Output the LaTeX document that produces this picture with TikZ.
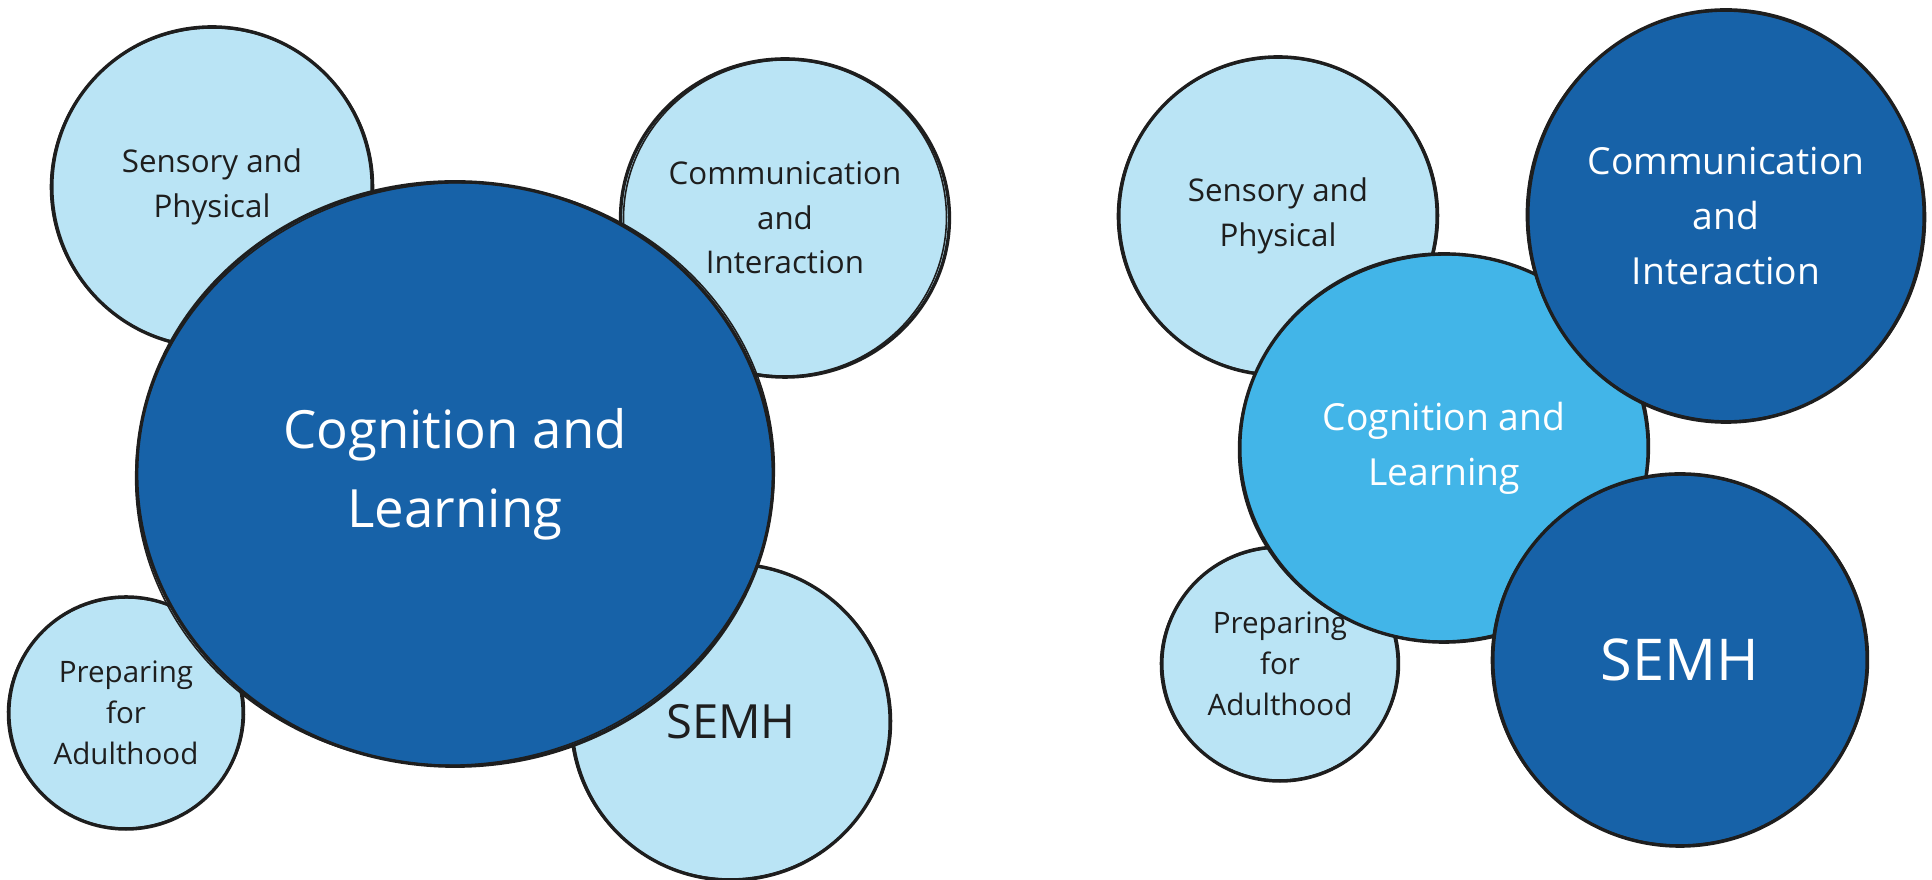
\documentclass[tikz,border=0pt]{standalone}
\usepackage{fontspec}
\setmainfont{Open Sans}
\usetikzlibrary{shapes.geometric}
\definecolor{dk}{HTML}{1762A8}
\definecolor{lt}{HTML}{BAE4F5}
\definecolor{md}{HTML}{42B5E8}
\definecolor{ink}{HTML}{1E1E1E}
\tikzset{
  bub/.style={ellipse, draw=ink, line width=0.95pt, inner sep=0pt, align=center},
  light/.style={bub, fill=lt, text=ink},
  dark/.style={bub, fill=dk, text=white},
  mid/.style={bub, fill=md, text=white},
  sketchline/.style={draw=ink, line width=0.45pt},
  fsmall/.style={font=\fontsize{8.9}{12.7}\selectfont},
  fprep/.style={font=\fontsize{8.4}{11.6}\selectfont},
  fbigl/.style={font=\fontsize{15}{22.5}\selectfont},
  fmedr/.style={font=\fontsize{10.6}{15.6}\selectfont},
  fsemhl/.style={font=\fontsize{13.4}{16}\selectfont},
  fsemhr/.style={font=\fontsize{16.4}{19}\selectfont},
}
% name, style, cx, cy, rx, ry, text
\newcommand{\bubblenode}[7]{%
  \node[#2, minimum width={0.02cm*#5}, minimum height={0.02cm*#6}] (#1) at (#3,#4) {#7};
  \draw[sketchline, rotate around={5:(#1.center)}] (#1.center) ellipse [x radius=#5+1.5, y radius=#6-1];
}
\begin{document}
\begin{tikzpicture}[x=0.01cm,y=-0.01cm]
\useasboundingbox (0,0) rectangle (1932,880);
% ---------- left group ----------
\bubblenode{lsens}{light,fsmall}{212}{187}{160}{160}{Sensory and\\Physical}
\bubblenode{lcomm}{light,fsmall}{785}{218}{160}{159}{Communication\\and\\Interaction}
\bubblenode{lprep}{light,fprep}{126}{713}{117}{116}{Preparing\\for\\Adulthood}
\bubblenode{lsemh}{light,fsemhl}{731}{722}{159}{158}{SEMH}
\bubblenode{lcog}{dark,fbigl}{455}{474}{318}{292}{Cognition and\\Learning}
% ---------- right group ----------
\bubblenode{rsens}{light,fsmall}{1278}{216}{159}{159}{Sensory and\\Physical}
\bubblenode{rprep}{light,fprep}{1280}{664}{118}{117}{Preparing\\for\\Adulthood}
\bubblenode{rcog}{mid,fmedr}{1444}{448}{204}{194}{Cognition and\\Learning}
\bubblenode{rcomm}{dark,fmedr}{1726}{216}{198}{206}{Communication\\and\\Interaction}
\bubblenode{rsemh}{dark,fsemhr}{1680}{660}{187}{186}{SEMH}
\end{tikzpicture}
\end{document}
